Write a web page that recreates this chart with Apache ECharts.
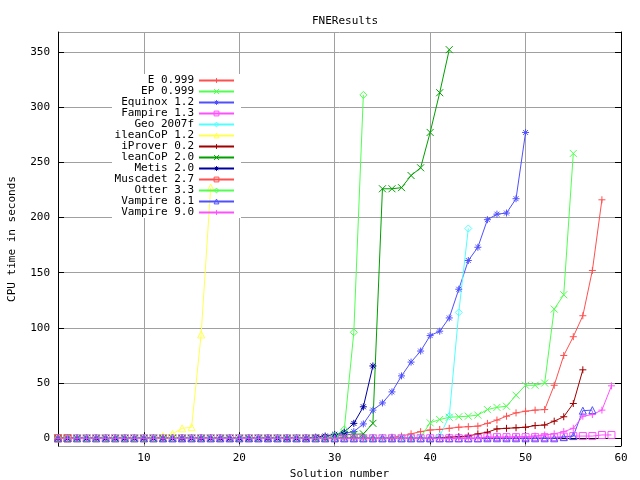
<!DOCTYPE html>
<html><head><meta charset="utf-8">
<script src="https://cdn.jsdelivr.net/npm/echarts@6/dist/echarts.min.js"></script>
<style>html,body{margin:0;padding:0;background:#fff}#c{width:640px;height:480px}</style>
</head><body><div id="c"></div>
<script>
// ---- data (y values; x = solution number 1..N) ----
const seriesNames = ['E 0.999','EP 0.999','Equinox 1.2','Fampire 1.3','Geo 2007f','ileanCoP 1.2','iProver 0.2','leanCoP 2.0','Metis 2.0','Muscadet 2.7','Otter 3.3','Vampire 8.1','Vampire 9.0'];
const xTickLabels = [10,20,30,40,50,60];
const yTickLabels = [0,50,100,150,200,250,300,350];

const E_0999 = [0,0,0,0,0,0,0,0,0,0, 0,0,0,0,0,0,0,0,0,0, 0,0,0,0,0,0,0,0,0,0, 0,0,0,0,0,1,2,4,6,7.5, 8,9,10,10.5,11,13.5,16.5,20,23,24.5, 25.5,26,48,75,92,111,152,216];
const EP_0999 = [0,0,0,0,0,0,0,0,0,0, 0,0,0,0,0,0,0,0,0,0, 0,0,0,0,0,0,0,0,0,0, 0,0,0,0,0,0,0,0,1,14, 17,19,19.5,20,21,26,28,29,39,48, 48,50,117,130,258];
const Equinox_12 = [0,0,0,0,0,0,0,0,0,0, 0,0,0,0,0,0,0,0,0,0, 0,0,0,0,0,0,0,0,0,2, 4.5,6,13,25.5,32,42,56.5,69,79,93, 97,109,135,161,173,198,203,204,217,277];
const Fampire_13 = [0,0,0,0,0,0,0,0,0,0, 0,0,0,0,0,0,0,0,0,0, 0,0,0,0,0,0,0,0,0,0, 0,0,0,0,0,0,0,0,0,0, 0,0,0,0,0,1,1,1,1,1, 1,1,1,1.5,2,2,2,3,3];
const Geo_2007f = [0,0,0,0,0,0,0,0,0,0, 0,0,0,0,0,0,0,0,0,0, 0,0,0,0,0,0,0,0,0,0, 0,0,0,0,0,0,0,0,0,0, 2,20,114,190];
const ileanCoP_12 = [0,0,0,0,0,0,0,0,0,0, 0,2,4,9,10,94,227];
const iProver_02 = [0,0,0,0,0,0,0,0,0,0, 0,0,0,0,0,0,0,0,0,0, 0,0,0,0,0,0,0,0,0,0, 0,0,0,0,0,0,0,0,0,0, 0.5,1,1.5,2,4,5.5,8.5,9,9.5,10, 11.5,12,15.5,19.5,31.5,62];
const leanCoP_20 = [0,0,0,0,0,0,0,0,0,0, 0,0,0,0,0,0,0,0,0,0, 0,0,0,0,0,0,0,0,0,1, 3.5,3.5,4,13.5,226,226,227,238,245,277, 313,352];
const Metis_20 = [0,0,0,0,0,0,0,0,0,0, 0,0,0,0,0,0,0,0,0,0, 0,0,0,0,0,0,0,1,2,3.5, 5.5,13.5,28.5,65.5];
const Muscadet_27 = [0,0];
const Otter_33 = [0,0,0,0,0,0,0,0,0,0, 0,0,0,0,0,0,0,0,0,0, 0,0,0,0,0,0,0,0,0,2, 8,96,311];
const Vampire_81 = [0,0,0,0,0,0,0,0,0,0, 0,0,0,0,0,0,0,0,0,0, 0,0,0,0,0,0,0,0,0,0, 0,0,0,0,0,0,0,0,0,0, 0,0,0,0,0,0,0,0,0,0, 0,0,0,1,2,25,25.5];
const Vampire_90 = [0,0,0,0,0,0,0,0,0,0, 0,0,0,0,0,0,0,0,0,0, 0,0,0,0,0,0,0,0,0,0, 0,0,0,0,0,0,0,0,0,0, 0,0,0,0,0,1,1,1,1.5,1.5, 2,3,4,6,9,20,21.5,25.5,47.5];

const seriesValues = [E_0999, EP_0999, Equinox_12, Fampire_13, Geo_2007f, ileanCoP_12, iProver_02, leanCoP_20, Metis_20, Muscadet_27, Otter_33, Vampire_81, Vampire_90];

// ---- styling ----
const colors = ['#ff5050','#50ff50','#5050ff','#ff50ff','#50ffff','#ffff50','#a00000','#00a000','#0000a0','#ff5050','#50ff50','#5050ff','#ff50ff'];
const PLUS = 'path://M0,5L10,5M5,0L5,10';
const CROSS = 'path://M0,0L10,10M10,0L0,10';
const STAR = 'path://M0,5L10,5M5,0L5,10M1.5,1.5L8.5,8.5M8.5,1.5L1.5,8.5';
const BOX = 'path://M0,0L10,0L10,10L0,10Z';
const DIAM = 'path://M5,0L10,5L5,10L0,5Z';
const TRI = 'path://M5,0L10,9L0,9Z';
const symbols = [PLUS, CROSS, STAR, BOX, DIAM, TRI, PLUS, CROSS, STAR, BOX, DIAM, TRI, PLUS];
const FONT = 'DejaVu Sans Mono';

const chart = echarts.init(document.getElementById('c'), null, {renderer: 'canvas'});
const series = seriesNames.map((name, k) => ({
  name: name,
  type: 'line',
  data: seriesValues[k].map((v, i) => [i + 1, v]),
  symbol: symbols[k],
  symbolSize: 7,
  showSymbol: true,
  showAllSymbol: true,
  lineStyle: {color: colors[k], width: 1},
  itemStyle: {color: 'rgba(0,0,0,0)', borderColor: colors[k], borderWidth: 1},
  emphasis: {disabled: true},
  z: 2
}));

const axisCommon = {
  type: 'value',
  axisLine: {show: true, lineStyle: {color: '#000', width: 1}},
  axisTick: {show: true, inside: true, length: 6, lineStyle: {color: '#000'}},
  splitLine: {show: false},
  axisLabel: {show: false}
};

chart.setOption({
  animation: false,
  backgroundColor: '#fff',
  title: {
    text: 'FNEResults', left: 307, top: 11,
    textStyle: {fontFamily: FONT, fontSize: 11, fontWeight: 'normal', color: '#000'}
  },
  grid: {left: 58, right: 19, top: 32, bottom: 34, containLabel: false, outerBoundsMode: 'none'},
  graphic: [{type: 'rect', z: 1, silent: true, shape: {x: 112, y: 74, width: 129, height: 144}, style: {fill: '#fff'}}],
  legend: {
    orient: 'vertical', align: 'right', right: 405, top: 75, padding: 0,
    itemWidth: 35, itemHeight: 6, itemGap: 0, selectedMode: false,
    itemStyle: {borderWidth: 1},
    textStyle: {fontFamily: FONT, fontSize: 11, lineHeight: 11, color: '#000'},
    data: seriesNames
  },
  xAxis: [
    Object.assign({}, axisCommon, {
      position: 'bottom', min: 1, max: 60, splitNumber: 6,
      splitLine: {show: true, lineStyle: {color: '#a0a0a0', width: 1}},
      axisLabel: {show: true, color: '#000', fontFamily: FONT, fontSize: 11, margin: 7,
        showMinLabel: false,
        formatter: v => (xTickLabels.indexOf(v) >= 0 ? String(v) : '')},
      name: 'Solution number', nameLocation: 'middle', nameGap: 22,
      nameTextStyle: {fontFamily: FONT, fontSize: 11, color: '#000'}
    }),
    Object.assign({}, axisCommon, {position: 'top', min: 1, max: 60, splitNumber: 6})
  ],
  yAxis: [
    Object.assign({}, axisCommon, {
      position: 'left', min: -7, max: 368, splitNumber: 8,
      splitLine: {show: true, lineStyle: {color: '#a0a0a0', width: 1}},
      axisLabel: {show: true, color: '#000', fontFamily: FONT, fontSize: 11, margin: 8,
        showMinLabel: false, showMaxLabel: false,
        formatter: v => (yTickLabels.indexOf(v) >= 0 ? String(v) : '')},
      name: 'CPU time in seconds', nameLocation: 'middle', nameGap: 40, nameRotate: 90,
      nameTextStyle: {fontFamily: FONT, fontSize: 11, color: '#000'}
    }),
    Object.assign({}, axisCommon, {position: 'right', min: -7, max: 368, splitNumber: 8})
  ],
  series: series
});
</script>
</body></html>
